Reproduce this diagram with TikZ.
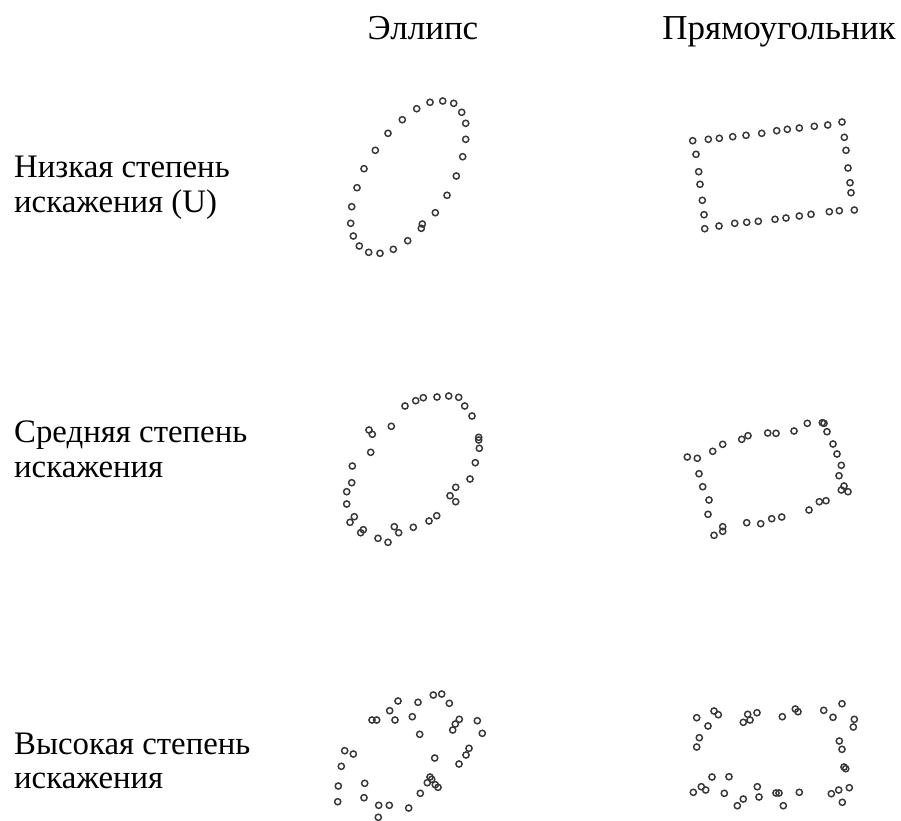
\documentclass[tikz,border=0pt]{standalone}
\usepackage{fontspec}
\setmainfont{Liberation Serif}
\begin{document}
\begin{tikzpicture}[x=1pt,y=-1pt,
  lbl/.style={anchor=base west,inner sep=0pt,font=\fontsize{32.8}{35}\selectfont},
  hdr/.style={anchor=base,inner sep=0pt,font=\fontsize{35}{38}\selectfont},
  dot/.style={draw=black!78,line width=1.45pt}]
\useasboundingbox[fill=white] (0,0) rectangle (901,820);
% headers
\node[hdr] (h1) at (423,39) {Эллипс};
\node[hdr] (h2) at (779,39) {Прямоугольник};
% row labels
\node[lbl] (r1a) at (14,177) {Низкая степень};
\node[lbl] (r1b) at (14,212) {искажения (U)};
\node[lbl] (r2a) at (14,442) {Средняя степень};
\node[lbl] (r2b) at (14,477) {искажения};
\node[lbl] (r3a) at (14,754) {Высокая степень};
\node[lbl] (r3b) at (14,788) {искажения};
% ellipse, low
\foreach \x/\y in {430/102.3,442.7/101,453.7/103.3,461.7/112.3,465.7/123.3,465.7/139.3,462.7/156.7,456.3/176,447/195.3,435.3/212.7,422.3/224,421.3/228.3,407.7/240.7,393.3/249.3,380/253.3,368.7/252.3,359.3/246,353.3/236,350.7/223.3,351.7/206.7,357/187.7,364/168.7,375.3/150.3,388/133.3,402.3/119.7,416.7/108.7}
  \draw[dot] (\x,\y) circle[radius=3.1];
% rectangle, low
\foreach \x/\y in {692.7/140.7,708.3/139.3,719.3/138.3,732.7/136.7,746/135.3,761.7/133.3,776.7/130.7,787.3/129.3,799.3/128,814.3/126.3,827.7/125,842/122,844.3/137.3,846/150.3,848/168,850/182.7,851/192.7,854.3/210,839.3/210.7,829.3/211.7,811/214.3,799.3/216,786/218,775/219.3,758.3/221.3,746.7/222.3,734.7/223.3,719/226,704.7/228.7,704/214.7,702.3/200.3,700/184.3,698.7/171.7,696/154.3}
  \draw[dot] (\x,\y) circle[radius=3.1];
% ellipse, medium
\foreach \x/\y in {405/406,415.7/400.7,423.3/397.7,437/397,448.7/396,458.7/397.3,464.7/406,472/416,478.7/437.3,478.7/440,479.3/448.3,475.3/462.7,470/479,455.7/487.3,450/495.7,455.7/501.7,436.7/515.7,429/521,413.3/527.3,394.3/526.7,398.7/532.7,388/542.3,378/538.3,363.3/529.7,360.7/532.7,354.3/516.7,350/522.3,346.7/504,346.7/491.7,351.7/482.7,352.3/466,370.7/452.3,369/430,372.3/434.3,391.3/426.3}
  \draw[dot] (\x,\y) circle[radius=3.1];
% rectangle, medium
\foreach \x/\y in {687.3/457,697.3/458.3,712.7/451.3,722.7/444.3,741.7/439.3,748/435.7,767.7/433,776/433.3,794/431,807.3/423.3,822.3/422.7,824/423.3,827/431.7,833/444,837/454,841.3/465.3,839/475.7,844/486,841.3/490,848/491.7,826/500.7,819.3/501.7,809/510,781.7/517,771.7/518.7,760.7/523.7,746.7/522.7,722.7/526.7,722.7/531.3,714/535.3,708/514.3,709/500,702.7/486.7,699/473.7}
  \draw[dot] (\x,\y) circle[radius=3.1];
% ellipse, high
\foreach \x/\y in {398/701,418/702.3,433.3/695,441.7/694,449.3/703.3,389.7/710.7,372/720,376.7/720,395/720,412.3/716.7,419.7/734.3,459.3/719.3,455.3/724,452.7/730,477.3/720.7,482.3/733.3,469/748.3,466/755,459/764,434.7/758,344.7/750.7,353.3/754,341.3/766.3,338.3/786,337.7/801.7,364.7/783.3,364/797.7,378.7/805.3,389.3/805.3,408.7/808,378.3/817.3,420.3/793.3,427.3/782.7,430/777,431.7/779.3,435.3/784.7,438/787.3}
  \draw[dot] (\x,\y) circle[radius=3.1];
% rectangle, high
\foreach \x/\y in {696.7/717.7,714/711,718.3/714.7,708/726,699.3/737.7,696.7/747,747.7/714.3,757/712.7,750/720,743.3/722.3,782.3/716.7,795.3/709,798/711.7,823.7/710.3,833/717.3,842/703.7,854.3/719.3,853.3/727,839.3/741,842/749.3,844/767,845.7/768.7,849.3/787.7,838.7/790,831.3/793.7,842.3/802.3,799.3/792.3,783.3/805.7,779/793,776/793,759/797,757.3/786.7,743.3/799,737.3/805.7,724.3/793.3,729/776.7,712/777,701.3/786.7,705.7/790,693.3/792.3}
  \draw[dot] (\x,\y) circle[radius=3.1];
\end{tikzpicture}
\end{document}
